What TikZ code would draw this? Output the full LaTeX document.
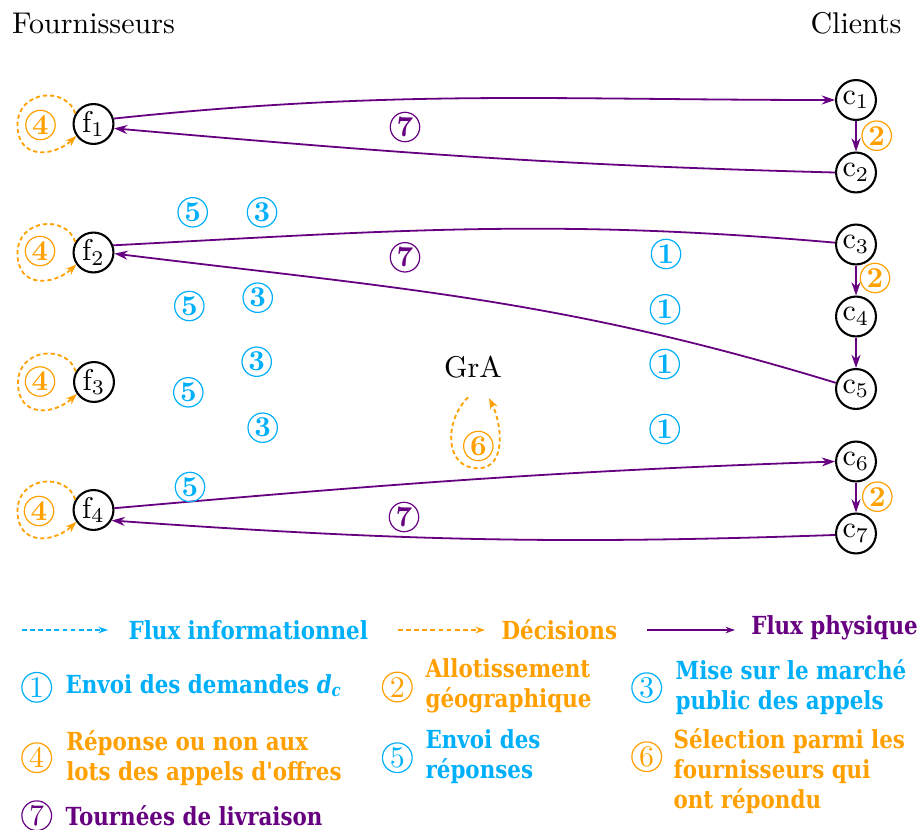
\documentclass[tikz,border=0pt]{standalone}
\usepackage{fontspec}
\newfontfamily\legfont{DejaVu Serif}[FakeStretch=0.86]
\usetikzlibrary{arrows.meta,calc}
\definecolor{cyanC}{RGB}{0,175,250}
\definecolor{orangeC}{RGB}{255,160,0}
\definecolor{purpleC}{RGB}{102,0,128}
\begin{document}
\begin{tikzpicture}[x=0.3333pt,y=0.3333pt,
  cnode/.style={circle,draw=black,line width=0.7pt,minimum size=13.3pt,inner sep=0pt},
  num/.style={circle,draw=#1,text=#1,line width=0.4pt,inner sep=0pt,minimum size=9.8pt,font=\fontsize{9.6}{11}\selectfont\bfseries},
  lnum/.style={circle,draw=#1,text=#1,line width=0.4pt,inner sep=0pt,minimum size=9.9pt,font=\fontsize{10}{12}\selectfont},
  phys/.style={purpleC,line width=0.6pt,-{Stealth[length=4.4pt,width=3pt]}},
  physline/.style={purpleC,line width=0.6pt},
  deci/.style={orangeC,line width=0.6pt,dash pattern=on 1.4pt off 1pt,-{Stealth[length=3.6pt,width=2.6pt]}},
  legarrow/.style={#1,line width=0.45pt,-{Stealth[length=3.2pt,width=2.2pt]}},
  legtxt/.style={text=#1,anchor=west,inner sep=0pt,align=left,font=\legfont\bfseries\fontsize{8.3}{10}\selectfont}
]
\useasboundingbox (0,0) rectangle (922,-829);

% headers
\node[anchor=base] (hf) at (93.5,-34) {Fournisseurs};
\node[anchor=base] (hc) at (856,-34) {Clients};

% suppliers
\node[cnode] (f1) at (93.5,-124) {$\mathrm{f}_1$};
\node[cnode] (f2) at (93.5,-252.5) {$\mathrm{f}_2$};
\node[cnode] (f3) at (94,-382) {$\mathrm{f}_3$};
\node[cnode] (f4) at (93.5,-510) {$\mathrm{f}_4$};

% clients
\node[cnode] (c1) at (856,-100) {$\mathrm{c}_1$};
\node[cnode] (c2) at (856,-172.5) {$\mathrm{c}_2$};
\node[cnode] (c3) at (856,-244.5) {$\mathrm{c}_3$};
\node[cnode] (c4) at (856,-316.5) {$\mathrm{c}_4$};
\node[cnode] (c5) at (856,-389) {$\mathrm{c}_5$};
\node[cnode] (c6) at (856,-461.5) {$\mathrm{c}_6$};
\node[cnode] (c7) at (856,-533.5) {$\mathrm{c}_7$};

% GrA
\node[anchor=base,inner sep=0pt] (gra) at (473,-377) {GrA};

% physical flows
\draw[phys] (f1.15) to[out=6,in=180] (c1.west);
\draw[phys] (c2.west) to[out=178.5,in=-5] (f1.-12);
\draw[physline] (f2.20) to[out=3,in=175] (c3.175);
\draw[phys] (c5.163) to[out=163,in=-7] (f2.-3);
\draw[phys] (f4.5) to[out=5,in=182] (c6.west);
\draw[phys] (c7.184) to[out=182,in=-4] (f4.-30);
\draw[phys] (c1) -- (c2);
\draw[phys] (c3) -- (c4);
\draw[phys] (c4) -- (c5);
\draw[phys] (c6) -- (c7);

% decision loops on suppliers
\foreach \f in {f1,f2,f3,f4}{
  \draw[deci] (\f.150) .. controls ($(\f)+(-27,38)$) and ($(\f)+(-76,34)$) .. ($(\f)+(-76,-1)$)
     .. controls ($(\f)+(-76,-36)$) and ($(\f)+(-40,-33)$) .. (\f.215);
}
% decision loop on GrA
\draw[deci] ($(gra.south)+(-5,-19)$) .. controls ($(gra.south)+(-29,-43)$) and ($(gra.south)+(-29,-90)$) .. ($(gra.south)+(5,-90)$)
   .. controls ($(gra.south)+(35,-90)$) and ($(gra.south)+(28,-43)$) .. ($(gra.south)+(16,-20)$);

% circled labels in the diagram
\node[num=orangeC] (o4a) at (40.5,-125) {4};
\node[num=orangeC] (o4b) at (40,-251) {4};
\node[num=orangeC] (o4c) at (40,-381.5) {4};
\node[num=orangeC] (o4d) at (39,-511) {4};
\node[num=orangeC] (o2a) at (876.7,-135.7) {2};
\node[num=orangeC] (o2b) at (875,-278) {2};
\node[num=orangeC] (o2c) at (877.3,-496.7) {2};
\node[num=orangeC] (o6) at (478.3,-446) {6};
\node[num=purpleC] (p7a) at (405,-127) {7};
\node[num=purpleC] (p7b) at (405,-257.3) {7};
\node[num=purpleC] (p7c) at (404,-517) {7};
\node[num=cyanC] (b5a) at (192.7,-212.3) {5};
\node[num=cyanC] (b5b) at (189.3,-306) {5};
\node[num=cyanC] (b5c) at (188.3,-392.3) {5};
\node[num=cyanC] (b5d) at (190,-487) {5};
\node[num=cyanC] (b3a) at (262,-212.3) {3};
\node[num=cyanC] (b3b) at (257.7,-297.7) {3};
\node[num=cyanC] (b3c) at (256.7,-361.7) {3};
\node[num=cyanC] (b3d) at (262.7,-427.7) {3};
\node[num=cyanC] (b1a) at (666,-254) {1};
\node[num=cyanC] (b1b) at (665,-309.3) {1};
\node[num=cyanC] (b1c) at (664.7,-364) {1};
\node[num=cyanC] (b1d) at (664.7,-429) {1};

% legend: line styles
\coordinate (la1) at (22,-630);
\coordinate (la2) at (108,-630);
\draw[legarrow=cyanC,dash pattern=on 1.6pt off 1.1pt] (la1) -- (la2);
\node[legtxt=cyanC] (lt1) at (128,-630) {Flux informationnel};
\coordinate (lb1) at (398,-630);
\coordinate (lb2) at (485,-630);
\draw[legarrow=orangeC,dash pattern=on 1.6pt off 1.1pt] (lb1) -- (lb2);
\node[legtxt=orangeC] (lt2) at (501,-630) {Décisions};
\coordinate (lc1) at (647,-630);
\coordinate (lc2) at (735,-630);
\draw[legarrow=purpleC] (lc1) -- (lc2);
\node[legtxt=purpleC] (lt3) at (750.7,-628) {Flux physique};

% legend: numbered items
\node[lnum=cyanC] (l1) at (36.7,-687.3) {1};
\node[legtxt=cyanC] (l1t) at (65,-686) {Envoi des demandes \textit{d}\textsubscript{\textit{c}}};
\node[lnum=orangeC] (l2) at (397.3,-687) {2};
\node[legtxt=orangeC] (l2t) at (425,-686) {Allotissement\\géographique};
\node[lnum=cyanC] (l3) at (646.7,-687.7) {3};
\node[legtxt=cyanC] (l3t) at (675,-687) {Mise sur le marché\\public des appels};
\node[lnum=orangeC] (l4) at (36.7,-757.7) {4};
\node[legtxt=orangeC] (l4t) at (65.7,-758) {Réponse ou non aux\\lots des appels d'offres};
\node[lnum=cyanC] (l5) at (397.3,-757.7) {5};
\node[legtxt=cyanC] (l5t) at (425,-757) {Envoi des\\réponses};
\node[lnum=orangeC] (l6) at (646.7,-756.7) {6};
\node[legtxt=orangeC] (l6t) at (673,-771) {Sélection parmi les\\fournisseurs qui\\ont répondu};
\node[lnum=purpleC] (l7) at (36.7,-815.7) {7};
\node[legtxt=purpleC] (l7t) at (65,-816) {Tournées de livraison};
\end{tikzpicture}
\end{document}
